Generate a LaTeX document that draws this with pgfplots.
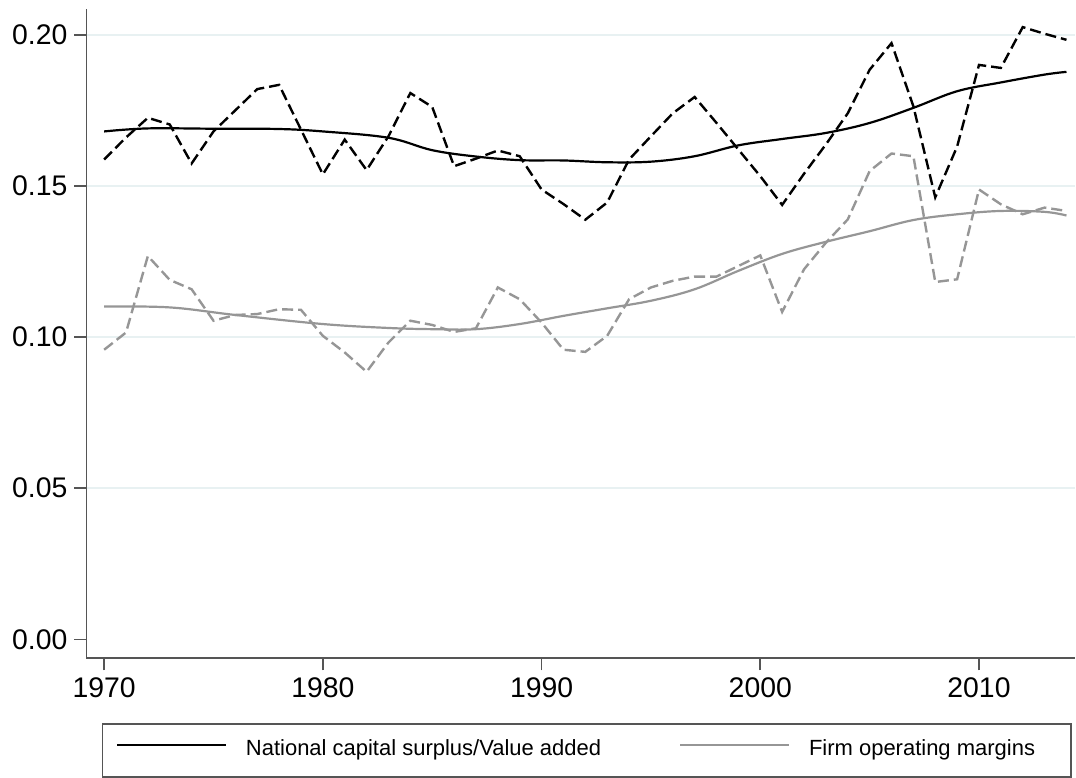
\documentclass[border=0pt]{standalone}
\usepackage{pgfplots}
\pgfplotsset{compat=1.18}
\usepackage{fontspec}
\setmainfont{Liberation Sans}
\definecolor{gridc}{RGB}{232,241,242}
\definecolor{axc}{RGB}{85,85,85}
\definecolor{lgrey}{RGB}{150,150,150}
\begin{document}
\begin{tikzpicture}
\path (-43.25pt,-59.5pt) rectangle (494.75pt,329.5pt);
\begin{axis}[
  scale only axis,
  width=494.75pt, height=324.85pt,
  xmin=1969.19, xmax=2014.39,
  ymin=-0.00628, ymax=0.2084,
  axis x line=bottom, axis y line=left,
  axis line style={-, draw=axc, line width=0.9pt},
  tick align=outside,
  major tick length=6pt,
  tick style={draw=axc, line width=0.9pt},
  xtick={1970,1980,1990,2000,2010},
  ytick={0.05,0.10,0.15,0.20},
  extra y ticks={0},
  extra y tick style={grid=none},
  ymajorgrids,
  major grid style={draw=gridc, line width=1pt},
  /pgf/number format/assume math mode=true,
  yticklabel style={/pgf/number format/.cd, fixed, zerofill, precision=2},
  extra y tick labels={0.00},
  xticklabel style={/pgf/number format/.cd, set thousands separator={}},
  tick label style={font=\fontsize{14.2}{17}\selectfont},
  minor tick num=0,
  legend columns=2,
  legend style={
    at={(0.01536,-0.09928)}, anchor=north west,
    draw=axc, line width=0.9pt,
    inner xsep=6.65pt, inner ysep=8.1pt,
    font=\fontsize{11}{13}\selectfont,
    nodes={inner sep=0pt, text height=8pt, text depth=2.5pt},
    /tikz/every odd column/.append style={column sep=9.35pt},
    /tikz/every even column/.append style={column sep=0pt},
  },
  legend image code/.code={\draw[#1, line width=1.3pt] (0pt,2.8pt) -- (54.5pt,2.8pt);},
]
% smooth national
\addplot[black, line width=1.1pt, smooth, tension=0.6] coordinates {
(1970,0.1680) (1972,0.1690) (1975,0.1689) (1978,0.1688) (1980,0.1680)
(1983,0.1659) (1985,0.1618) (1987,0.1597) (1989,0.1585) (1991,0.1584)
(1993,0.1578) (1995,0.1580) (1997,0.1598) (1999,0.1634) (2001,0.1655)
(2003,0.1675) (2005,0.1708) (2007,0.1758) (2009,0.1813) (2011,0.1842)
(2013,0.1868) (2014,0.1877)};
\addlegendentry{\makebox[216.65pt][l]{National capital surplus/Value added}}
% smooth firm
\addplot[lgrey, line width=1.1pt, smooth, tension=0.6] coordinates {
(1970,0.1101) (1973,0.1098) (1976,0.1073) (1980,0.1043) (1983,0.1030)
(1985,0.1026) (1987,0.1026) (1989,0.1043) (1991,0.1070) (1993,0.1095)
(1995,0.1120) (1997,0.1158) (1999,0.1219) (2001,0.1275) (2003,0.1315)
(2005,0.1350) (2007,0.1387) (2009,0.1406) (2011,0.1417) (2013,0.1414)
(2014,0.1402)};
\addlegendentry{\makebox[124.35pt][l]{Firm operating margins}}
% dashed national
\addplot[black, line width=1.2pt, dash pattern=on 5.5pt off 2.5pt, forget plot] coordinates {
(1970,0.1587) (1971,0.1660) (1972,0.1725) (1973,0.1703) (1974,0.1574)
(1975,0.1680) (1976,0.1750) (1977,0.1820) (1978,0.1834) (1979,0.1686)
(1980,0.1538) (1981,0.1653) (1982,0.1552) (1983,0.1664) (1984,0.1807)
(1985,0.1761) (1986,0.1565) (1987,0.1590) (1988,0.1617) (1989,0.1598)
(1990,0.1488) (1991,0.1440) (1992,0.1388) (1993,0.1445) (1994,0.1587)
(1995,0.1664) (1996,0.1740) (1997,0.1794) (1998,0.1708) (1999,0.1620)
(2000,0.1532) (2001,0.1437) (2002,0.1540) (2003,0.1637) (2004,0.1740)
(2005,0.1884) (2006,0.1972) (2007,0.1763) (2008,0.1462) (2009,0.1630)
(2010,0.1900) (2011,0.1890) (2012,0.2025) (2013,0.2003) (2014,0.1983)};
% dashed firm
\addplot[lgrey, line width=1.2pt, dash pattern=on 5.5pt off 2.5pt, forget plot] coordinates {
(1970,0.0958) (1971,0.1015) (1972,0.1268) (1973,0.1189) (1974,0.1158)
(1975,0.1054) (1976,0.1073) (1977,0.1076) (1978,0.1092) (1979,0.1090)
(1980,0.1004) (1981,0.0949) (1982,0.0885) (1983,0.0982) (1984,0.1054)
(1985,0.1040) (1986,0.1017) (1987,0.1029) (1988,0.1164) (1989,0.1125)
(1990,0.1048) (1991,0.0958) (1992,0.0951) (1993,0.1004) (1994,0.1125)
(1995,0.1164) (1996,0.1186) (1997,0.1200) (1998,0.1200) (1999,0.1235)
(2000,0.1270) (2001,0.1083) (2002,0.1224) (2003,0.1312) (2004,0.1389)
(2005,0.1549) (2006,0.1607) (2007,0.1598) (2008,0.1182) (2009,0.1191)
(2010,0.1488) (2011,0.1439) (2012,0.1406) (2013,0.1428) (2014,0.1417)};
\end{axis}
\end{tikzpicture}
\end{document}
